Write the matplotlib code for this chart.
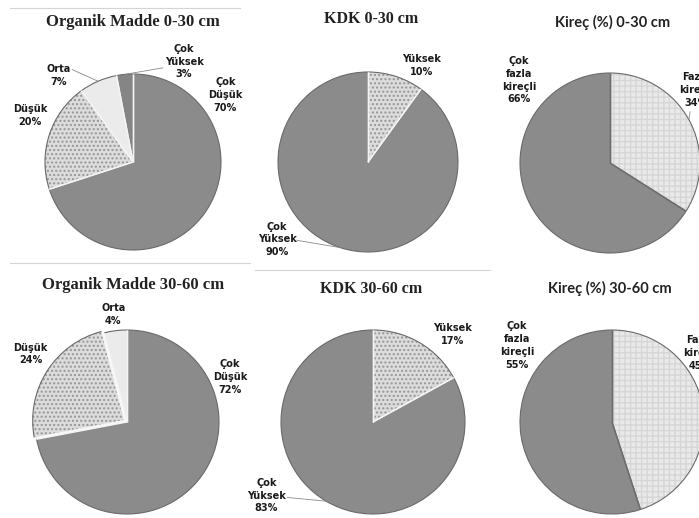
import matplotlib
matplotlib.use("Agg")
import matplotlib.pyplot as plt
import numpy as np
from matplotlib.patches import Arc
from matplotlib.lines import Line2D

W, H = 699, 518

# -- verileri --
om_cats = ["Çok\nDüşük", "Düşük", "Orta", "Çok\nYüksek"]
om_0_30 = [70, 20, 7, 3]
om_cats_2 = ["Çok\nDüşük", "Düşük", "Orta"]
om_30_60 = [72, 24, 4]

kdk_cats = ["Yüksek", "Çok\nYüksek"]
kdk_0_30 = [10, 90]
kdk_30_60 = [17, 83]

kirec_cats = ["Fazla\nkireçli", "Çok\nfazla\nkireçli"]
kirec_0_30 = [34, 66]
kirec_30_60 = [45, 55]

titles = [
    "Organik Madde 0-30 cm",
    "KDK 0-30 cm",
    "Kireç (%) 0-30 cm",
    "Organik Madde 30-60 cm",
    "KDK 30-60 cm",
    "Kireç (%) 30-60 cm",
]

# -- stijl per categorie: (vulkleur, arcering, arceerkleur) --
DARK = ("#8b8b8b", None, None)
DARK2 = ("#858585", None, None)
DOTS = ("#dcdcdc", "....", "#969696")
LIGHT = ("#ebebeb", None, None)
GRID = ("#e9e9e9", "+++", "#d6d6d6")

fig = plt.figure(figsize=(W / 100, H / 100), dpi=100)
fig.patch.set_facecolor("white")


def draw_pie(cx, cy, r, values, cats, styles, lab_xy, leaders, sep_color, explode=None):
    k = 1.6
    s = 2 * r * k
    ax = fig.add_axes([(cx - s / 2) / W, 1 - (cy + s / 2) / H, s / W, s / H])
    wedges, _ = ax.pie(
        values,
        startangle=90,
        counterclock=False,
        colors=[st[0] for st in styles],
        explode=explode,
        wedgeprops=dict(linewidth=0),
    )
    ax.set_xlim(-k, k)
    ax.set_ylim(-k, k)
    ax.axis("off")

    for w, st in zip(wedges, styles):
        if st[1]:
            w.set_hatch(st[1])
            w.set_edgecolor(st[2])
            w.set_linewidth(0)

    # scheidingslijnen en buitenrand
    for w in wedges:
        c = w.center
        for th in (w.theta1, w.theta2):
            t = np.deg2rad(th)
            ax.plot([c[0], c[0] + np.cos(t)], [c[1], c[1] + np.sin(t)],
                    color=sep_color, lw=1.0, solid_capstyle="butt")
        ax.add_patch(Arc(c, 2, 2, theta1=w.theta1, theta2=w.theta2,
                         color="#6a6a6a", lw=0.8))

    for i, (w, v) in enumerate(zip(wedges, values)):
        x, y = lab_xy[i]
        ax.text(x, y, f"{cats[i]}\n{v}%", ha="center", va="center",
                fontsize=7, fontweight="bold", family="DejaVu Sans",
                linespacing=1.35, color="#1a1a1a")
        if leaders[i] is not None:
            mid = np.deg2rad((w.theta1 + w.theta2) / 2)
            ex = w.center[0] + np.cos(mid)
            ey = w.center[1] + np.sin(mid)
            ax.plot([leaders[i][0], ex], [leaders[i][1], ey], color="#8a8a8a", lw=0.6)
    return ax


# Organik Madde 0-30
draw_pie(133, 162, 88, om_0_30, om_cats, [DARK, DOTS, LIGHT, DARK2],
         [(1.05, 0.76), (-1.17, 0.53), (-0.85, 0.98), (0.58, 1.14)],
         [None, None, (-0.69, 1.05), (0.34, 1.07)], "#f4f4f4")
# KDK 0-30
draw_pie(368, 162, 90, kdk_0_30, kdk_cats, [DOTS, DARK],
         [(0.59, 1.07), (-1.01, -0.86)],
         [None, (-0.79, -0.87)], "#f4f4f4")
# Kireç 0-30
draw_pie(610, 163, 90, kirec_0_30, kirec_cats, [GRID, DARK],
         [(0.96, 0.81), (-1.01, 0.92)],
         [(0.89, 0.57), None], "#6e6e6e")
# Organik Madde 30-60
draw_pie(127, 422, 92, om_30_60, om_cats_2, [DARK, DOTS, LIGHT],
         [(1.12, 0.49), (-1.05, 0.74), (-0.15, 1.17)],
         [None, None, None], "#f4f4f4", explode=[0, 0.03, 0])
# KDK 30-60
draw_pie(373, 422, 92, kdk_30_60, kdk_cats, [DOTS, DARK],
         [(0.86, 0.95), (-1.16, -0.80)],
         [None, (-0.93, -0.82)], "#f4f4f4")
# Kireç 30-60
draw_pie(612, 422, 92, kirec_30_60, kirec_cats, [GRID, DARK],
         [(0.96, 0.75), (-1.03, 0.83)],
         [None, None], "#6e6e6e")

# -- titels --
title_pos = [(133, 22), (371, 19), (613, 22), (133, 285), (371, 289), (610, 288)]
title_fonts = [
    dict(family="Liberation Serif", fontsize=12),
    dict(family="Liberation Serif", fontsize=11.5),
    dict(family="Lato", fontsize=10.5),
    dict(family="Liberation Serif", fontsize=12),
    dict(family="Liberation Serif", fontsize=11.5),
    dict(family="Lato", fontsize=10.5),
]
for t, (x, y), f in zip(titles, title_pos, title_fonts):
    fig.text(x / W, 1 - y / H, t, ha="center", va="center",
             fontweight="bold", color="#222222", **f)

# dunne scheidingslijnen tussen de panelen
for x0, x1, y in [(10, 240, 8), (10, 250, 263), (255, 490, 270)]:
    fig.add_artist(Line2D([x0 / W, x1 / W], [1 - y / H, 1 - y / H],
                          color="#d4d4d4", lw=0.8))

fig.savefig("out.png", dpi=100)
